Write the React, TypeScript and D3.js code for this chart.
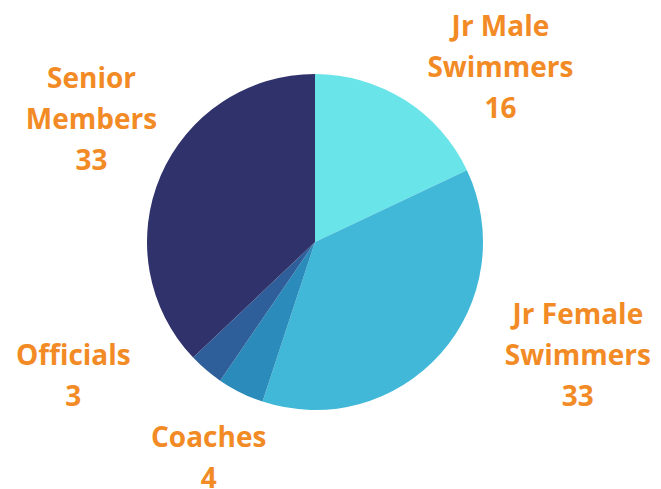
import React from "react";
import * as d3 from "d3";

const categories = ["Jr Male Swimmers", "Jr Female Swimmers", "Coaches", "Officials", "Senior Members"];
const labelLines = [["Jr Male", "Swimmers"], ["Jr Female", "Swimmers"], ["Coaches"], ["Officials"], ["Senior", "Members"]];
const values = [16, 33, 4, 3, 33];
const colors = ["#69e4e8", "#41b8d8", "#2b8bba", "#2e5f9a", "#30336b"];

const W = 661, H = 489;
const CX = 315, CY = 242, R = 168;
const LABEL_R = 240;
const nudges: [number, number][] = [[57, 27], [83, -46], [0, 0], [-86, -50], [-3, -29]];
const LINE_H = 41;
const FONT = 28;

export default function App() {
  const pie = d3.pie<number>().sort(null).value((d) => d)(values);
  const arc = d3.arc<d3.PieArcDatum<number>>().innerRadius(0).outerRadius(R);
  const labelArc = d3.arc<d3.PieArcDatum<number>>().innerRadius(LABEL_R).outerRadius(LABEL_R);
  return (
    <svg width={W} height={H} style={{ position: "absolute", left: 0, top: 0 }}>
      <g transform={`translate(${CX},${CY})`}>
        {pie.map((p, i) => (
          <path key={categories[i]} d={arc(p) || ""} fill={colors[i]} />
        ))}
        {pie.map((p, i) => {
          const [lx, ly] = labelArc.centroid(p);
          const x = lx + nudges[i][0];
          const y = ly + nudges[i][1];
          const lines = [...labelLines[i], String(values[i])];
          const first = y - ((lines.length - 1) / 2) * LINE_H + 10.5;
          return (
            <text key={categories[i]} x={x} y={first} textAnchor="middle"
              fontFamily="'Open Sans', sans-serif" fontWeight={700} fontSize={FONT} fill="#f28b25">
              {lines.map((t, j) => (
                <tspan key={j} x={x} y={first + j * LINE_H}>{t}</tspan>
              ))}
            </text>
          );
        })}
      </g>
    </svg>
  );
}
